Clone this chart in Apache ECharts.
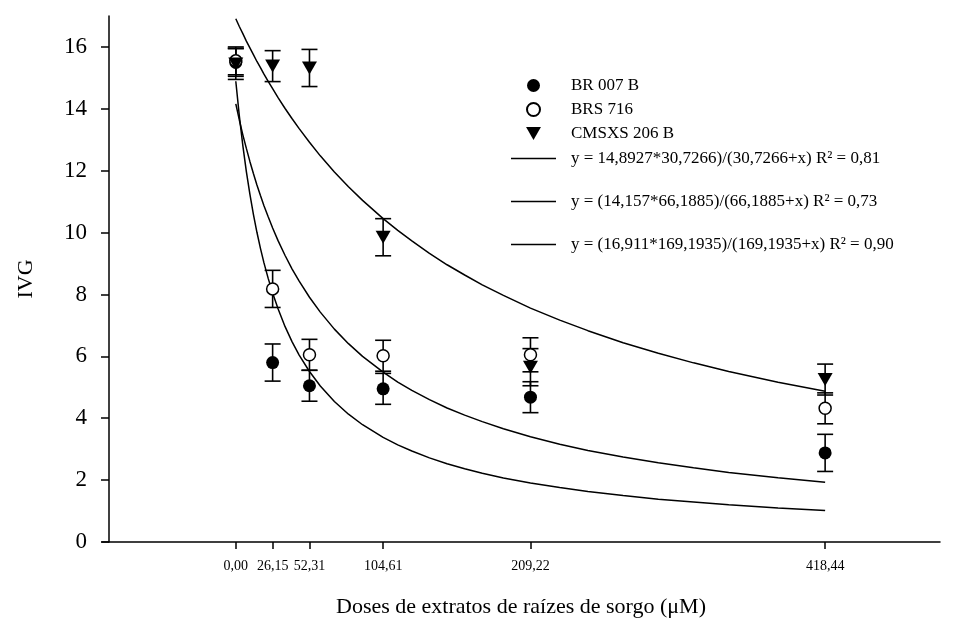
<!DOCTYPE html>
<html>
<head>
<meta charset="utf-8">
<script src="https://cdn.jsdelivr.net/npm/echarts@6/dist/echarts.min.js"></script>
<style>
  html, body { margin: 0; padding: 0; background: #fff; }
  #main { width: 974px; height: 619px; }
</style>
</head>
<body>
<div id="main"></div>
<script>
// doses (uM) and IVG means +- error
var doses = [0, 26.15, 52.31, 104.61, 209.22, 418.44];
var br007 = [15.5, 5.8, 5.05, 4.95, 4.68, 2.88];
var br007Err = [0.45, 0.6, 0.5, 0.5, 0.5, 0.6];
var brs716 = [15.55, 8.18, 6.05, 6.02, 6.05, 4.32];
var brs716Err = [0.45, 0.6, 0.5, 0.5, 0.55, 0.5];
var cmsxs = [15.45, 15.38, 15.32, 9.85, 5.65, 5.25];
var cmsxsErr = [0.5, 0.5, 0.6, 0.6, 0.6, 0.5];

// fitted curves, values
var fitX = [0, 2.5, 5, 7.5, 10, 12.5, 15, 17.5, 20, 23, 26.15, 30, 35, 40, 45, 52.31, 60, 70, 80, 90,
  104.61, 115, 125, 137.5, 150, 162.5, 175, 190, 209.22, 230, 250, 275, 300, 325, 350, 385, 418.44];
var fitA = [14.89, 13.77, 12.81, 11.97, 11.24, 10.59, 10.01, 9.49, 9.02, 8.52, 8.05, 7.54, 6.96, 6.47, 6.04, 5.51, 5.04, 4.54, 4.13, 3.79,
  3.38, 3.14, 2.94, 2.72, 2.53, 2.37, 2.22, 2.07, 1.91, 1.76, 1.63, 1.50, 1.38, 1.29, 1.20, 1.10, 1.02];
var fitB = [14.16, 13.64, 13.16, 12.72, 12.30, 11.91, 11.54, 11.20, 10.87, 10.51, 10.15, 9.74, 9.26, 8.82, 8.43, 7.91, 7.43, 6.88, 6.41, 6.00,
  5.49, 5.17, 4.90, 4.60, 4.33, 4.10, 3.89, 3.66, 3.40, 3.16, 2.96, 2.75, 2.56, 2.40, 2.25, 2.08, 1.93];
var fitC = [16.91, 16.66, 16.43, 16.19, 15.97, 15.75, 15.53, 15.33, 15.12, 14.89, 14.65, 14.36, 14.01, 13.68, 13.36, 12.92, 12.48, 11.96, 11.48, 11.04,
  10.45, 10.07, 9.73, 9.33, 8.96, 8.63, 8.31, 7.97, 7.56, 7.17, 6.83, 6.44, 6.10, 5.79, 5.51, 5.16, 4.87];

var names = ['BR 007 B', 'BRS 716', 'CMSXS 206 B'];
var fitNames = [
  'y = 14,8927*30,7266)/(30,7266+x) R\u00b2 = 0,81',
  'y = (14,157*66,1885)/(66,1885+x) R\u00b2 = 0,73',
  'y = (16,911*169,1935)/(169,1935+x) R\u00b2 = 0,90'
];
var yTicks = [0, 2, 4, 6, 8, 10, 12, 14, 16];

var serif = 'Liberation Serif';
var triDown = 'path://M0,0 L12,0 L6,10.5 Z';
var lineIcon = 'path://M0,0 L45,0 L45,1.5 L0,1.5 Z';

function zip(xs, ys) {
  return xs.map(function (x, i) { return [x, ys[i]]; });
}
function zipErr(xs, ys, es) {
  return xs.map(function (x, i) { return [x, ys[i], es[i]]; });
}

function renderErr(params, api) {
  var x = api.value(0), y = api.value(1), e = api.value(2);
  var top = api.coord([x, y + e]);
  var bot = api.coord([x, y - e]);
  var hw = 8;
  var st = { stroke: '#000', lineWidth: 1.6 };
  return {
    type: 'group',
    children: [
      { type: 'line', shape: { x1: top[0], y1: top[1], x2: bot[0], y2: bot[1] }, style: st },
      { type: 'line', shape: { x1: top[0] - hw, y1: top[1], x2: top[0] + hw, y2: top[1] }, style: st },
      { type: 'line', shape: { x1: bot[0] - hw, y1: bot[1], x2: bot[0] + hw, y2: bot[1] }, style: st }
    ]
  };
}

function errSeries(ys, es) {
  return {
    type: 'custom',
    renderItem: renderErr,
    encode: { x: 0, y: 1 },
    data: zipErr(doses, ys, es),
    z: 1,
    silent: true
  };
}

function fitSeries(name, ys) {
  return {
    name: name,
    type: 'line',
    data: zip(fitX, ys),
    smooth: false,
    symbol: 'none',
    lineStyle: { color: '#000', width: 1.5 },
    itemStyle: { color: '#000' },
    z: 2,
    silent: true
  };
}

var myChart = echarts.init(document.getElementById('main'));
var option = {
  backgroundColor: '#fff',
  animation: false,
  grid: { left: 102, right: 34, top: 16, bottom: 77, outerBoundsMode: 'none' },
  xAxis: {
    type: 'value',
    min: -95,
    max: 500,
    name: 'Doses de extratos de raízes de sorgo (\u03bcM)',
    nameLocation: 'middle',
    nameGap: 54,
    nameTextStyle: { fontFamily: serif, fontSize: 22, color: '#000' },
    axisLine: { onZero: false, lineStyle: { color: '#000', width: 1.5 } },
    axisTick: { show: true, length: 7, customValues: doses, lineStyle: { color: '#000', width: 1.5 } },
    axisLabel: {
      customValues: doses,
      margin: 17,
      fontFamily: serif,
      fontSize: 14,
      color: '#000',
      formatter: function (v) { return v.toFixed(2).replace('.', ','); }
    },
    splitLine: { show: false }
  },
  yAxis: {
    type: 'value',
    min: 0,
    max: 17,
    offset: -7,
    name: 'IVG',
    nameLocation: 'middle',
    nameGap: 72,
    nameTextStyle: { fontFamily: serif, fontSize: 22, color: '#000' },
    axisLine: { show: true, onZero: false, lineStyle: { color: '#000', width: 1.5 } },
    axisTick: { show: true, length: 8, customValues: yTicks, lineStyle: { color: '#000', width: 1.5 } },
    axisLabel: { customValues: yTicks, margin: 22, fontFamily: serif, fontSize: 23, color: '#000' },
    splitLine: { show: false }
  },
  legend: [{
    orient: 'vertical',
    left: 521,
    top: 72,
    itemWidth: 45,
    itemHeight: 13,
    itemGap: 7,
    textStyle: { fontFamily: serif, fontSize: 17, color: '#000', padding: [0, 0, 0, 10] },
    data: [
      { name: names[0], icon: 'circle' },
      { name: names[1], icon: 'circle' },
      { name: names[2], icon: triDown }
    ]
  }, {
    orient: 'vertical',
    left: 506,
    top: 145,
    itemWidth: 45,
    itemHeight: 14,
    itemGap: 26,
    textStyle: { fontFamily: serif, fontSize: 17, color: '#000', padding: [0, 0, 0, 10] },
    data: fitNames.map(function (n) { return { name: n, icon: lineIcon }; })
  }],
  series: [
    fitSeries(fitNames[0], fitA),
    fitSeries(fitNames[1], fitB),
    fitSeries(fitNames[2], fitC),
    errSeries(br007, br007Err),
    errSeries(brs716, brs716Err),
    errSeries(cmsxs, cmsxsErr),
    {
      name: names[0],
      type: 'scatter',
      data: zip(doses, br007),
      symbol: 'circle',
      symbolSize: 13,
      itemStyle: { color: '#000', opacity: 1 },
      z: 3
    },
    {
      name: names[1],
      type: 'scatter',
      data: zip(doses, brs716),
      symbol: 'circle',
      symbolSize: 12,
      itemStyle: { color: '#fff', borderColor: '#000', borderWidth: 1.5, opacity: 1 },
      z: 4
    },
    {
      name: names[2],
      type: 'scatter',
      data: zip(doses, cmsxs),
      symbol: triDown,
      symbolSize: [15, 13],
      itemStyle: { color: '#000', opacity: 1 },
      z: 5
    }
  ]
};
myChart.setOption(option);
</script>
</body>
</html>
